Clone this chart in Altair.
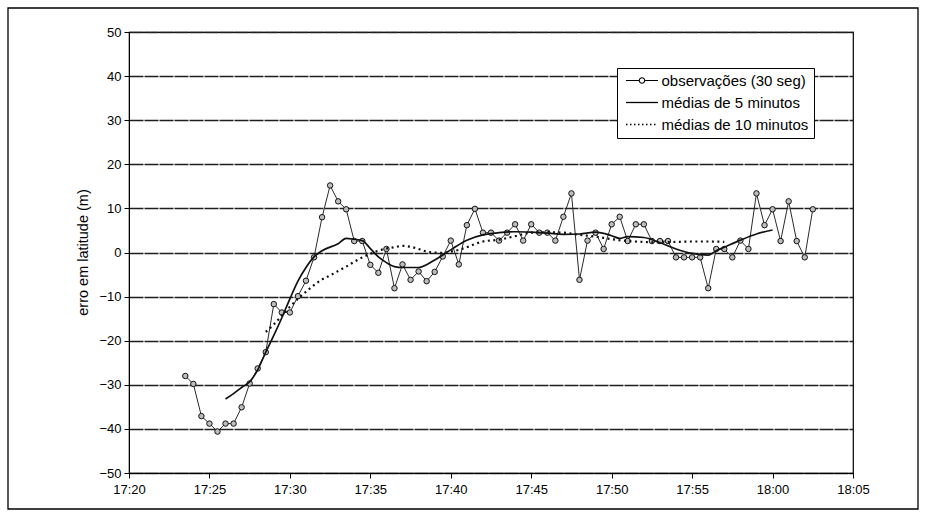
import altair as alt
import pandas as pd

# ---- data -------------------------------------------------------------
# Latitude error (m) of 30-second position fixes, first fix at 17:23:30
obs_start_min = 17 * 60 + 23.5        # minutes after midnight
obs_step_min = 0.5
obs_values = [
    -28.0, -29.8, -37.1, -38.8, -40.6, -38.8, -38.8, -35.1, -29.7, -26.3,
    -22.6, -11.7, -13.6, -13.6, -9.9, -6.4, -1.1, 8.0, 15.2, 11.6,
    9.8, 2.6, 2.6, -2.8, -4.6, 0.8, -8.1, -2.7, -6.2, -4.3,
    -6.5, -4.4, -0.9, 2.7, -2.7, 6.2, 9.9, 4.5, 4.5, 2.7,
    4.5, 6.4, 2.7, 6.4, 4.5, 4.5, 2.7, 8.1, 13.4, -6.2,
    2.7, 4.5, 0.8, 6.4, 8.1, 2.6, 6.4, 6.4, 2.6, 2.6,
    2.6, -1.1, -1.1, -1.1, -1.1, -8.1, 0.8, 0.8, -1.1, 2.7,
    0.8, 13.4, 6.2, 9.8, 2.6, 11.6, 2.6, -1.1, 9.8,
]
obs_time = [obs_start_min + i * obs_step_min for i in range(len(obs_values))]

# 5-minute running means (time in minutes after midnight)
avg5_time = [1046, 1046.5, 1047, 1047.5, 1048, 1048.5, 1049, 1049.5, 1050, 1050.5,
             1051, 1051.5, 1052, 1053, 1053.5, 1054, 1054.5, 1055, 1055.5, 1056,
             1056.5, 1057, 1058, 1059, 1060, 1061, 1062, 1063, 1064, 1065,
             1066, 1067, 1068, 1069, 1070, 1070.5, 1071, 1072, 1073, 1074,
             1075, 1076, 1076.5, 1077, 1078, 1079, 1080]
avg5_values = [-33.2, -32.0, -30.6, -29.3, -26.6, -22.6, -18.8, -14.8, -10.5, -6.5,
               -3.4, -1.0, 0.4, 2.0, 3.2, 3.0, 2.7, 0.9, -1.0, -2.3,
               -3.2, -3.4, -3.4, -1.7, 0.6, 2.8, 4.0, 4.5, 4.7, 4.6,
               4.4, 4.1, 4.2, 4.6, 3.8, 3.2, 3.6, 3.4, 2.2, 0.8,
               -0.2, -0.6, 0.4, 1.2, 2.8, 4.2, 5.1]

# 10-minute running means
avg10_time = [1048.5, 1049, 1049.5, 1050, 1050.5, 1051, 1051.5, 1052, 1052.5, 1053,
              1053.5, 1054, 1054.5, 1055, 1055.5, 1056, 1056.5, 1057, 1057.5, 1058,
              1058.5, 1059, 1059.5, 1060, 1060.5, 1061, 1061.5, 1062, 1063, 1064,
              1065, 1066, 1067, 1068, 1069, 1070, 1071, 1072, 1073, 1074,
              1075, 1076, 1077]
avg10_values = [-18.0, -16.3, -14.3, -12.3, -10.5, -8.9, -7.4, -6.1, -5.2, -4.2,
                -3.2, -2.1, -1.1, -0.3, 0.4, 0.9, 1.2, 1.5, 1.3, 0.8,
                0.2, 0.0, -0.1, 0.2, 0.6, 1.2, 1.9, 2.5, 2.9, 3.7,
                4.5, 4.6, 4.5, 4.0, 3.6, 3.0, 2.6, 2.4, 2.3, 2.4,
                2.5, 2.5, 2.4]

series_names = ["observações (30 seg)", "médias de 5 minutos", "médias de 10 minutos"]

y_ticks = list(range(-50, 51, 10))
x_ticks = list(range(17 * 60 + 20, 18 * 60 + 6, 5))

obs_df = pd.DataFrame({"t": obs_time, "v": obs_values})
avg5_df = pd.DataFrame({"t": avg5_time, "v": avg5_values})
avg10_df = pd.DataFrame({"t": avg10_time, "v": avg10_values})
legend_df = pd.DataFrame({"serie": series_names})

FONT = "Liberation Sans"

x_enc = alt.X(
    "t:Q",
    scale=alt.Scale(domain=[x_ticks[0], x_ticks[-1]], nice=False, zero=False),
    axis=alt.Axis(
        values=x_ticks,
        labelExpr="floor(datum.value / 60) + ':' + pad(toString(datum.value % 60), 2, '0', 'left')",
        title=None, grid=False, tickSize=5, labelPadding=5,
        labelFontSize=13, labelFont=FONT, labelColor="black",
        domainColor="black", tickColor="black", labelFlush=False,
    ),
)
y_enc = alt.Y(
    "v:Q",
    scale=alt.Scale(domain=[-50, 50], nice=False),
    axis=alt.Axis(
        values=y_ticks, title="erro em latitude (m)",
        titleFont=FONT, titleFontSize=14.5, titleFontWeight="normal", titleColor="black",
        titleX=-46, titleY=220, titleAngle=270, titleBaseline="middle", titleAlign="center",
        grid=True, gridColor="#1e1e1e", gridDash=[14, 1], gridWidth=1.6,
        tickSize=5, labelPadding=3, labelFontSize=13, labelFont=FONT, labelColor="black",
        domainColor="black", tickColor="black",
    ),
)

# outer frame around the whole figure
frame = alt.Chart(pd.DataFrame({"f": [0]})).mark_rect(
    fill="transparent", stroke="black", strokeWidth=1.3
).encode(
    x=alt.value(-121), x2=alt.value(789), y=alt.value(-24), y2=alt.value(477)
)

obs_line = alt.Chart(obs_df).mark_line(color="#2a2a2a", strokeWidth=1).encode(x=x_enc, y=y_enc)
obs_pts = alt.Chart(obs_df).mark_point(
    filled=True, fill="#bdbdbd", stroke="#111111", strokeWidth=1, size=30, opacity=1
).encode(x=x_enc, y=y_enc)

avg5_line = alt.Chart(avg5_df).mark_line(
    color="#111111", strokeWidth=1.7, interpolate="monotone"
).encode(x=x_enc, y=y_enc)

avg10_line = alt.Chart(avg10_df).mark_line(
    color="#111111", strokeWidth=2.2, strokeDash=[2, 3.5], interpolate="monotone"
).encode(x=x_enc, y=y_enc)

# legend symbols drawn as filled outlines (1 unit = 5 px at symbolSize 100):
# thin bars for the line segments, a ring for the marker, small squares for dots
sym_obs = ("M-3.2,-0.11H-0.62V0.11H-3.2Z"
           "M0.62,-0.11H3.2V0.11H0.62Z"
           "M0.66,0A0.66,0.66,0,1,1,-0.66,0A0.66,0.66,0,1,1,0.66,0Z"
           "M0.44,0A0.44,0.44,0,1,0,-0.44,0A0.44,0.44,0,1,0,0.44,0Z")
sym_5 = "M-3.2,-0.13H3.2V0.13H-3.2Z"
sym_10 = "".join(
    f"M{x0:.1f},-0.15h0.3v0.3h-0.3Z" for x0 in (-3.2, -2.4, -1.6, -0.8, 0.0, 0.8, 1.6, 2.4)
)

legend_layer = alt.Chart(legend_df).mark_point(
    filled=True, fill="black", opacity=0
).encode(
    shape=alt.Shape(
        "serie:N",
        scale=alt.Scale(domain=series_names, range=[sym_obs, sym_5, sym_10]),
        legend=alt.Legend(
            orient="none", legendX=488, legendY=36, title=None, direction="vertical",
            symbolSize=100, symbolStrokeWidth=0, symbolFillColor="black", symbolOpacity=1,
            symbolOffset=12.5, labelOffset=12,
            labelFont=FONT, labelFontSize=15, labelColor="black", labelLimit=0,
            padding=5, rowPadding=6, strokeColor="black", fillColor="white",
        ),
    )
)

chart = alt.layer(
    frame, obs_line, obs_pts, avg5_line, avg10_line, legend_layer
).properties(
    width=724, height=441,
    padding={"left": 129, "top": 32, "right": 72, "bottom": 42},
    autosize=alt.AutoSizeParams(type="none"),
    background="white",
).configure_view(
    stroke="black", strokeWidth=1.2
)

chart.save("out.html", embed_options={"renderer": "svg", "actions": False})
